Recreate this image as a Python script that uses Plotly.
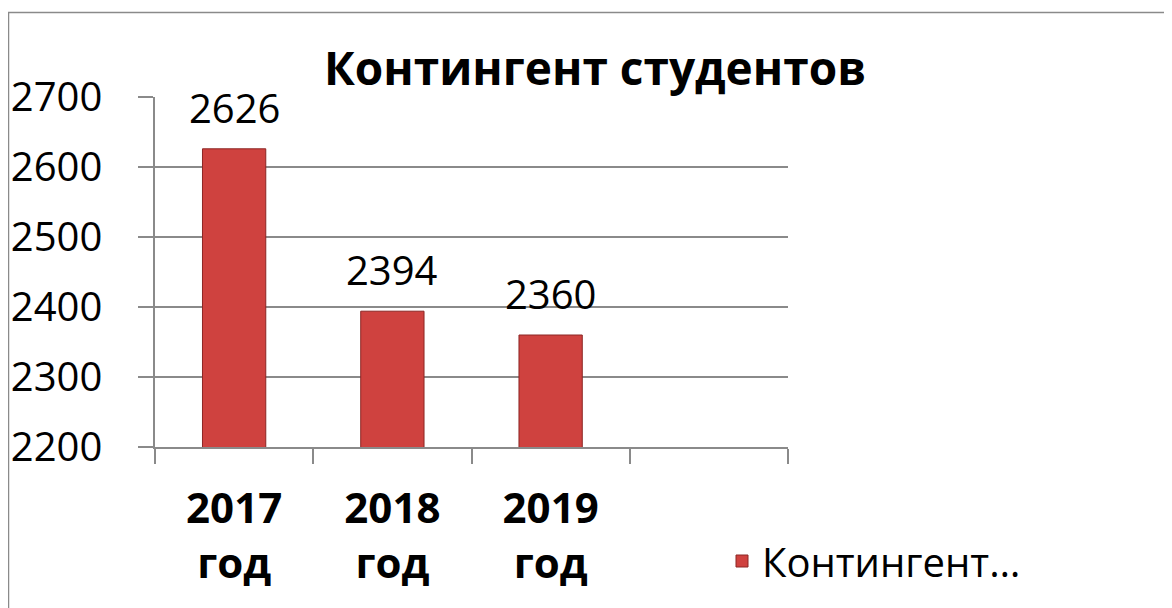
import plotly.graph_objects as go

categories = ["2017<br>год", "2018<br>год", "2019<br>год"]
axis_categories = ["2017<br>год", "2018<br>год", "2019<br>год", " "]
values = [2626, 2394, 2360]
series_name = "Контингент…"
title_text = "Контингент студентов"
y_ticks = [2200, 2300, 2400, 2500, 2600, 2700]

# page has 8px body margin -> figure origin sits at (8, 8) on screen
OFF = 8
W, H = 1172 - 2 * OFF, 608 - OFF
L, R, T, B = 155 - OFF, 384 - OFF, 97 - OFF, 161
pw, ph = W - L - R, H - T - B

def px_x(p):
    return (p - OFF - L) / pw

def px_y(p):
    return (H - B - (p - OFF)) / ph

FONT = "Open Sans"
GRID = "#8a8a8a"

fig = go.Figure()
fig.add_trace(go.Bar(
    x=categories, y=values, name=series_name,
    width=0.4,
    marker=dict(color="#cf423f", line=dict(color="#8c2624", width=1)),
    showlegend=True,
))

for c, v in zip(categories, values):
    fig.add_annotation(x=c, y=v, text=str(v), showarrow=False,
                       yanchor="bottom", yshift=12,
                       font=dict(family=FONT, size=40, color="#000000"))

fig.add_shape(type="rect", xref="paper", yref="paper",
              x0=px_x(8.5), x1=px_x(1200), y0=px_y(700), y1=px_y(12.5),
              line=dict(color="#8a8a8a", width=1.5), fillcolor="rgba(0,0,0,0)",
              layer="below")

fig.update_layout(
    width=W, height=H,
    margin=dict(l=L, r=R, t=T, b=B, autoexpand=False),
    paper_bgcolor="white", plot_bgcolor="white",
    title=dict(text="<b>" + title_text + "</b>", x=(595 - OFF) / W, xref="container", xanchor="center",
               y=1 - (69 - OFF) / H, yref="container", yanchor="middle",
               font=dict(family=FONT, size=46, color="#000000")),
    font=dict(family=FONT, color="#000000"),
    bargap=0.6,
    legend=dict(x=px_x(722), y=px_y(561), xanchor="left", yanchor="middle",
                font=dict(family=FONT, size=40, color="#000000"),
                bgcolor="rgba(0,0,0,0)"),
    xaxis=dict(type="category", categoryorder="array", categoryarray=axis_categories,
               range=[-0.5, 3.5], tickson="boundaries", ticks="outside", ticklen=15,
               tickcolor=GRID, tickwidth=1.5, showline=True, linecolor=GRID, linewidth=1.5,
               showgrid=False, ticklabelstandoff=24,
               tickfont=dict(family=FONT, size=42, color="#000000", weight="bold")),
    yaxis=dict(range=[2200, 2700], tickvals=y_ticks, ticks="outside", ticklen=15,
               tickcolor=GRID, tickwidth=1.5, showline=True, linecolor=GRID, linewidth=1.5,
               showgrid=True, gridcolor=GRID, gridwidth=1.5, zeroline=False,
               ticklabelstandoff=28,
               tickfont=dict(family=FONT, size=40, color="#000000")),
)

fig.write_html("out.html")
